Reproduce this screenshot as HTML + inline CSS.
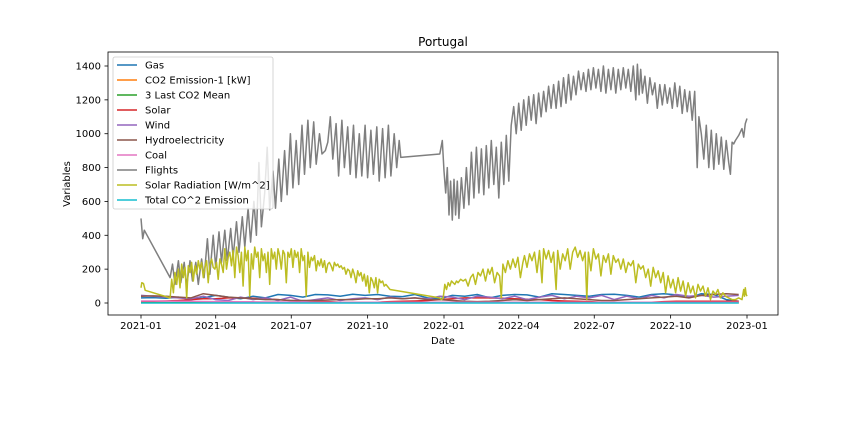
<!DOCTYPE html>
<html><head><meta charset="utf-8"><style>
html,body{margin:0;padding:0;background:#fff;}
svg{display:block;font-family:"DejaVu Sans","Liberation Sans",sans-serif;}
</style></head><body>
<svg id="chart" width="864" height="432" viewBox="0 0 864 432">
<rect width="864" height="432" fill="#fff"/>
<text x="443" y="46" font-size="12" text-anchor="middle">Portugal</text>
<g id="plot"></g>
<rect x="108" y="52" width="670" height="263" fill="none" stroke="#000" stroke-width="0.8"/>
<g id="axes"></g>
<text x="443" y="344" font-size="10" text-anchor="middle">Date</text>
<text x="0" y="0" font-size="10" text-anchor="middle" transform="translate(70,184) rotate(-90)">Variables</text>
<g id="legend"></g>
</svg>
<script>
const flightsData = [[0,500],[2,380],[4,430],[35,150],[38,230],[41,110],[45,250],[48,120],[52,240],[55,100],[59,250],[62,130],[66,240],[69,110],[73,260],[76,150],[80,380],[83,170],[87,400],[90,210],[94,420],[97,240],[101,430],[104,250],[108,440],[111,270],[115,480],[118,300],[122,510],[125,330],[129,560],[132,360],[136,600],[139,400],[142,830],[145,450],[149,650],[152,920],[155,550],[159,780],[162,560],[166,850],[169,600],[173,900],[176,640],[180,1000],[183,680],[187,960],[190,700],[194,1050],[197,760],[201,1080],[204,800],[208,1070],[211,820],[215,1000],[218,880],[222,900],[225,950],[228,1100],[231,850],[235,1060],[238,750],[242,1080],[245,800],[249,1040],[252,760],[256,1050],[259,740],[263,1000],[266,750],[270,1050],[273,740],[277,1020],[280,760],[284,1040],[287,720],[291,1030],[294,740],[298,1050],[301,750],[305,1000],[308,800],[311,960],[313,860],[360,880],[363,960],[365,780],[367,650],[369,800],[371,520],[373,720],[375,490],[377,730],[379,520],[381,720],[383,500],[386,740],[389,560],[392,800],[395,580],[398,890],[401,620],[404,920],[407,650],[410,910],[413,640],[416,930],[419,680],[422,960],[425,700],[428,920],[431,620],[434,950],[437,700],[440,990],[443,720],[446,1050],[449,1160],[452,1000],[455,1180],[458,1020],[461,1200],[464,1050],[467,1220],[470,1080],[473,1230],[476,1060],[479,1240],[482,1100],[485,1250],[488,1130],[491,1280],[494,1150],[497,1290],[500,1150],[503,1310],[506,1160],[509,1330],[512,1180],[515,1350],[518,1200],[521,1340],[524,1230],[527,1370],[530,1260],[533,1360],[536,1250],[539,1380],[542,1260],[545,1390],[548,1270],[551,1380],[554,1250],[557,1400],[560,1240],[563,1380],[566,1260],[569,1390],[572,1240],[575,1380],[578,1260],[581,1390],[584,1270],[587,1380],[590,1250],[593,1400],[596,1200],[598,1410],[600,1230],[602,1380],[604,1240],[607,1340],[610,1180],[613,1330],[616,1230],[619,1300],[622,1150],[625,1290],[628,1170],[631,1290],[634,1180],[637,1270],[640,1150],[643,1300],[646,1160],[649,1280],[652,1120],[655,1260],[658,1130],[661,1250],[664,1080],[667,1250],[670,800],[672,1100],[675,1000],[678,850],[681,1050],[684,800],[687,1020],[690,790],[693,1000],[696,820],[699,980],[702,790],[705,960],[708,830],[710,760],[712,950],[714,940],[716,960],[720,990],[724,1030],[726,980],[728,1060],[730,1090]];
const solarRadData = [[0,90],[1,120],[3,115],[5,75],[35,30],[37,140],[39,60],[41,180],[43,110],[45,200],[47,90],[49,230],[51,150],[53,210],[55,30],[57,220],[59,180],[61,240],[63,130],[65,220],[67,170],[69,250],[71,200],[73,240],[75,150],[77,210],[79,250],[81,120],[83,230],[85,260],[87,210],[89,200],[91,240],[93,140],[95,260],[97,230],[99,180],[101,320],[103,200],[105,270],[107,300],[109,220],[111,310],[113,150],[115,330],[117,280],[119,180],[121,300],[123,100],[125,330],[127,250],[129,310],[131,40],[133,290],[135,200],[137,330],[139,270],[141,300],[143,150],[145,320],[147,250],[149,290],[151,180],[153,300],[155,110],[157,320],[159,260],[161,300],[163,200],[165,320],[167,280],[169,200],[171,310],[173,290],[175,120],[177,300],[179,270],[181,320],[183,210],[185,310],[187,270],[189,300],[191,180],[193,320],[195,250],[197,280],[199,40],[201,300],[203,210],[205,270],[207,250],[209,280],[211,190],[213,250],[215,220],[217,260],[219,210],[221,250],[223,180],[225,230],[227,240],[229,220],[231,190],[233,240],[235,220],[237,230],[239,210],[241,220],[243,200],[245,210],[247,170],[249,200],[251,190],[253,150],[255,200],[257,170],[259,120],[261,190],[263,160],[265,180],[267,130],[269,170],[271,100],[273,160],[275,60],[277,150],[279,130],[281,90],[283,150],[285,60],[287,140],[289,120],[291,130],[293,100],[295,110],[300,80],[360,30],[362,20],[364,30],[366,110],[368,80],[370,120],[372,100],[374,130],[376,120],[378,110],[380,130],[382,120],[385,140],[388,130],[391,140],[394,100],[397,150],[400,170],[403,110],[406,180],[409,160],[412,200],[415,130],[418,200],[420,170],[423,210],[426,120],[429,180],[432,160],[434,30],[436,230],[439,180],[442,250],[445,200],[448,260],[451,210],[454,270],[457,150],[460,240],[462,280],[465,210],[468,290],[471,250],[474,300],[477,180],[480,310],[483,120],[485,320],[488,260],[491,310],[494,240],[497,300],[500,80],[502,310],[505,200],[508,290],[511,250],[514,320],[517,200],[520,300],[523,330],[526,270],[529,310],[532,250],[535,300],[537,20],[539,300],[542,190],[545,320],[548,260],[551,290],[554,160],[557,280],[560,240],[563,290],[566,170],[569,280],[572,240],[575,260],[578,200],[581,260],[584,180],[587,240],[590,220],[593,250],[596,120],[599,230],[602,200],[605,220],[608,150],[611,200],[614,100],[617,210],[620,150],[623,190],[626,120],[629,180],[632,60],[635,160],[638,90],[641,140],[644,60],[647,150],[650,70],[653,130],[656,40],[659,120],[662,60],[665,100],[668,30],[671,110],[674,70],[677,100],[680,40],[683,90],[686,20],[689,70],[692,50],[695,80],[698,30],[701,60],[704,40],[708,30],[712,20],[716,20],[720,30],[724,20],[726,80],[727,40],[728,90],[729,50],[730,40]];
const sampleStepDays = 15;
const gasValues = [30,32,28,35,20,30,45,35,25,40,30,50,45,35,50,48,40,52,45,50,40,38,50,30,25,45,40,50,30,45,50,48,35,55,50,45,40,50,52,45,35,50,55,48,30,55,50,20,10];
const co2EmissionValues = [1,1,1,1,1,1,1,1,1,1,1,1,1,1,1,1,1,1,1,1,1,1,1,1,1,1,1,1,1,1,1,1,1,1,1,1,1,1,1,1,1,1,1,1,1,1,1,1,1];
const co2MeanValues = [1,1,1,1,1,1,1,1,1,1,1,1,1,1,1,1,1,1,1,1,1,1,1,1,1,1,1,1,1,1,1,1,1,1,1,1,1,1,1,1,1,1,1,1,1,1,1,1,1];
const solarValues = [10,10,12,15,20,25,25,30,30,28,25,20,15,12,10,8,5,5,5,5,8,10,12,15,20,25,30,30,30,28,25,22,20,15,12,10,8,5,5,5,5,5,8,10,10,10,10,10,10];
const windValues = [45,40,35,30,25,40,20,15,35,20,30,15,35,10,20,30,15,25,30,20,35,25,30,25,40,35,20,40,35,25,40,20,35,45,25,40,30,45,20,40,25,45,30,50,40,45,35,40,45];
const hydroValues = [40,42,40,35,30,55,45,35,30,25,20,20,15,15,15,18,20,20,25,25,30,25,30,20,20,15,10,8,10,15,20,15,20,25,30,25,20,15,15,20,25,30,35,40,30,45,50,55,50];
const coalValues = [12,12,11,10,10,9,8,8,7,7,6,6,6,6,5,5,5,5,5,5,5,5,5,5,5,5,5,5,5,5,5,5,5,5,5,5,5,5,5,5,5,5,5,5,5,5,5,5,5];
const totalCo2Values = [0,0,0,0,0,0,0,0,0,0,0,0,0,0,0,0,0,0,0,0,0,0,0,0,0,0,0,0,0,0,0,0,0,0,0,0,0,0,0,0,0,0,0,0,0,0,0,0,0];
const yTicks = [0,200,400,600,800,1000,1200,1400];
const xTickDays = [0,90,181,273,365,455,546,638,730];
const xTickLabels = ["2021-01","2021-04","2021-07","2021-10","2022-01","2022-04","2022-07","2022-10","2023-01"];
const legendLabels = ["Gas","CO2 Emission-1 [kW]","3 Last CO2 Mean","Solar","Wind","Hydroelectricity","Coal","Flights","Solar Radiation [W/m^2]","Total CO^2 Emission"];
const colors = ["#1f77b4","#ff7f0e","#2ca02c","#d62728","#9467bd","#8c564b","#e377c2","#7f7f7f","#bcbd22","#17becf"];

const NS = "http://www.w3.org/2000/svg";
const xS = d => 141 + d * (606/730);
const yS = v => 303 - v * (237/1400);
function mk(tag, attrs, parent){const e=document.createElementNS(NS,tag);for(const k in attrs)e.setAttribute(k,attrs[k]);parent.appendChild(e);return e;}
const plot = document.getElementById('plot');
const axes = document.getElementById('axes');
const legend = document.getElementById('legend');

function sampled(vals){return vals.map((v,i)=>[Math.min(i*sampleStepDays,730),v]);}
const series = [
 ['gas',sampled(gasValues)],['co2-emission',sampled(co2EmissionValues)],['co2-mean',sampled(co2MeanValues)],
 ['solar',sampled(solarValues)],['wind',sampled(windValues)],['hydro',sampled(hydroValues)],
 ['coal',sampled(coalValues)],['flights',flightsData],['solar-radiation',solarRadData],['total-co2',sampled(totalCo2Values)]
];
series.forEach((s,i)=>{
  const p = mk('polyline',{points:s[1].map(d=>xS(d[0]).toFixed(1)+','+yS(d[1]).toFixed(1)).join(' '),fill:'none',stroke:colors[i],'stroke-width':1.5,'stroke-linejoin':'round'},plot);
  
  
});

yTicks.forEach(v=>{
  const t = mk('line',{x1:104.5,x2:108,y1:yS(v),y2:yS(v),stroke:'#000','stroke-width':0.8},axes);
  
  
  const l = mk('text',{x:101,y:yS(v)+3.5,'font-size':10,'text-anchor':'end'},axes);
  l.textContent = v;
  
  
});
xTickDays.forEach((d,i)=>{
  const t = mk('line',{x1:xS(d),x2:xS(d),y1:315,y2:318.5,stroke:'#000','stroke-width':0.8},axes);
  
  
  const l = mk('text',{x:xS(d),y:329,'font-size':10,'text-anchor':'middle'},axes);
  l.textContent = xTickLabels[i];
  
  
});

const box = mk('rect',{x:113,y:57,width:160,height:152,rx:2,fill:'#fff','fill-opacity':0.8,stroke:'#ccc','stroke-width':0.8},legend);


legendLabels.forEach((lab,i)=>{
  const y = 65 + i*15;
  const g = mk('g',{},legend);
  
  
  mk('line',{x1:117,x2:137,y1:y,y2:y,stroke:colors[i],'stroke-width':1.5},g);
  const t = mk('text',{x:145,y:y+3.5,'font-size':10},g);
  t.textContent = lab;
});
</script>
</body></html>
